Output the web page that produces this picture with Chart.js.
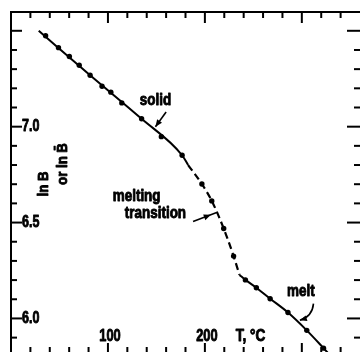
<!DOCTYPE html>
<html><head><meta charset="utf-8">
<script src="https://cdn.jsdelivr.net/npm/chart.js@4.4.1/dist/chart.umd.min.js"></script>
<style>html,body{margin:0;padding:0;background:#fff;}canvas{display:block;}</style>
</head><body>
<canvas id="c" width="364" height="356"></canvas>
<script>
// ---- data ----
const solidT = [35.7, 49, 60.2, 70.4, 81.6, 93.9, 103, 114.3, 134.7, 155.1, 176.5];
const solidV = [7.474, 7.412, 7.366, 7.320, 7.268, 7.211, 7.180, 7.124, 7.041, 6.948, 6.851];
const transT = [196.9, 207.1, 219.4, 229.6];
const transV = [6.701, 6.613, 6.469, 6.325];
const meltT = [241.8, 253.1, 267.3, 285.7, 305.1, 322.4];
const meltV = [6.201, 6.160, 6.103, 6.031, 5.938, 5.845];
// fitted curves
const solidLineT = [28.6, 81.6, 134.7, 176.5, 182.7];
const solidLineV = [7.50, 7.268, 7.041, 6.851, 6.80];
const transLineT = [182.7, 196.9, 207.1, 219.4, 229.6, 235.7];
const transLineV = [6.80, 6.701, 6.613, 6.469, 6.325, 6.227];
const meltLineT = [235.7, 241.8, 253.1, 267.3, 285.7, 305.1, 322.4, 336];
const meltLineV = [6.227, 6.201, 6.160, 6.103, 6.031, 5.938, 5.845, 5.77];
// axes
const xMajorTicks = [100, 200, 300];
const xMinorTicks = [20, 40, 60, 80, 120, 140, 160, 180, 220, 240, 260, 280, 320, 340];
const xTickLabels = ['100', '200'];
const yMajorTicks = [6.0, 6.5, 7.0, 7.5];
const yMinorTicks = [5.9, 6.1, 6.2, 6.3, 6.4, 6.6, 6.7, 6.8, 6.9, 7.1, 7.2, 7.3, 7.4];
const yTickLabels = ['6.0', '6.5', '7.0'];

const pts = (t, v) => t.map((x, i) => ({x, y: v[i]}));
const FONT = "'Liberation Sans','Arimo',sans-serif";

function arrowHead(ctx, x1, y1, x2, y2, len, w) {
  const a = Math.atan2(y2 - y1, x2 - x1);
  ctx.beginPath();
  ctx.moveTo(x2, y2);
  ctx.lineTo(x2 - len * Math.cos(a) + w * Math.sin(a), y2 - len * Math.sin(a) - w * Math.cos(a));
  ctx.lineTo(x2 - len * Math.cos(a) - w * Math.sin(a), y2 - len * Math.sin(a) + w * Math.cos(a));
  ctx.closePath();
  ctx.fill();
}
function txt(ctx, s, x, y, size, sx, align, rot) {
  ctx.save();
  ctx.translate(x, y);
  if (rot) ctx.rotate(rot);
  ctx.scale(sx, 1);
  ctx.font = 'bold ' + size + 'px ' + FONT;
  ctx.textAlign = align || 'center';
  ctx.textBaseline = 'middle';
  ctx.lineWidth = 0.9;
  ctx.lineJoin = 'round';
  ctx.fillText(s, 0, 0);
  ctx.strokeText(s, 0, 0);
  ctx.restore();
}

const deco = {
  id: 'deco',
  afterDraw(chart) {
    const {ctx, chartArea: a, scales: {x, y}} = chart;
    ctx.save();
    ctx.strokeStyle = '#000'; ctx.fillStyle = '#000';
    ctx.lineWidth = 2;
    // frame
    ctx.beginPath();
    ctx.moveTo(a.left, a.bottom); ctx.lineTo(a.left, a.top); ctx.lineTo(a.right, a.top);
    ctx.stroke();
    // x ticks (top and bottom, inward)
    const xt = (vals, lenTop, lenBot) => vals.forEach(v => {
      const px = x.getPixelForValue(v);
      ctx.beginPath(); ctx.moveTo(px, a.top); ctx.lineTo(px, a.top + lenTop); ctx.stroke();
      ctx.beginPath(); ctx.moveTo(px, a.bottom); ctx.lineTo(px, a.bottom - lenBot); ctx.stroke();
    });
    xt(xMinorTicks, 6, 5); xt(xMajorTicks, 11, 9);
    const yt = (vals, len, rlen) => vals.forEach(v => {
      const py = y.getPixelForValue(v);
      ctx.beginPath(); ctx.moveTo(a.left, py); ctx.lineTo(a.left + len, py); ctx.stroke();
      ctx.beginPath(); ctx.moveTo(a.right, py); ctx.lineTo(a.right - rlen, py); ctx.stroke();
    });
    yt(yMinorTicks, 6, 6); yt(yMajorTicks, 11, 13);
    // tick labels
    yTickLabels.forEach(s => txt(ctx, s, a.left + 11, y.getPixelForValue(parseFloat(s)), 16, 0.78, 'left'));
    xTickLabels.forEach(s => txt(ctx, s, x.getPixelForValue(parseFloat(s)) + 2, 336.5, 16, 0.8));
    txt(ctx, 'T, °C', x.getPixelForValue(247), 337, 16, 0.85);
    // y title (rotated)
    txt(ctx, 'ln B', 44, 184, 15, 0.88, 'center', -Math.PI / 2);
    txt(ctx, 'or ln B\u0304', 63, 164, 15, 0.88, 'center', -Math.PI / 2);
    // annotations
    txt(ctx, 'solid', x.getPixelForValue(149), y.getPixelForValue(7.134), 16, 0.84);
    txt(ctx, 'melting', x.getPixelForValue(129.6), y.getPixelForValue(6.634), 16, 0.84);
    txt(ctx, 'transition', x.getPixelForValue(149), y.getPixelForValue(6.546), 16, 0.84);
    txt(ctx, 'melt', x.getPixelForValue(299), y.getPixelForValue(6.139), 16, 0.84);
    ctx.lineWidth = 1.6;
    // solid arrow
    let x1 = x.getPixelForValue(160), y1 = y.getPixelForValue(7.077);
    let x2 = x.getPixelForValue(149), y2 = y.getPixelForValue(7.0);
    ctx.beginPath(); ctx.moveTo(x1, y1); ctx.lineTo(x2, y2); ctx.stroke();
    arrowHead(ctx, x1, y1, x2, y2, 7, 3);
    // transition arrow
    x1 = x.getPixelForValue(187.8); y1 = y.getPixelForValue(6.505);
    x2 = x.getPixelForValue(212.2); y2 = y.getPixelForValue(6.552);
    ctx.beginPath(); ctx.moveTo(x1, y1); ctx.lineTo(x2, y2); ctx.stroke();
    const mx = x1 + (x2 - x1) * 0.75, my = y1 + (y2 - y1) * 0.75;
    arrowHead(ctx, x1, y1, mx, my, 7, 3);
    // melt arrow (curved)
    x1 = x.getPixelForValue(312); y1 = y.getPixelForValue(6.077);
    x2 = x.getPixelForValue(298); y2 = y.getPixelForValue(5.990);
    const cx = x1 - 1, cy = y2 - 4;
    ctx.beginPath(); ctx.moveTo(x1, y1); ctx.quadraticCurveTo(cx, cy, x2, y2); ctx.stroke();
    arrowHead(ctx, cx, cy, x2, y2, 7, 3);
    ctx.restore();
  }
};

new Chart(document.getElementById('c'), {
  type: 'scatter',
  data: {
    datasets: [
      {data: pts(solidT, solidV), pointRadius: 2.7, pointBackgroundColor: '#000', pointBorderWidth: 0, showLine: false},
      {data: pts(transT, transV), pointRadius: 2.7, pointBackgroundColor: '#000', pointBorderWidth: 0, showLine: false},
      {data: pts(meltT, meltV), pointRadius: 2.7, pointBackgroundColor: '#000', pointBorderWidth: 0, showLine: false},
      {data: pts(solidLineT, solidLineV), showLine: true, borderColor: '#000', borderWidth: 2, pointRadius: 0, cubicInterpolationMode: 'monotone'},
      {data: pts(transLineT, transLineV), showLine: true, borderColor: '#000', borderWidth: 2.2, pointRadius: 0, borderDash: [7, 4], cubicInterpolationMode: 'monotone'},
      {data: pts(meltLineT, meltLineV), showLine: true, borderColor: '#000', borderWidth: 2, pointRadius: 0, cubicInterpolationMode: 'monotone'}
    ]
  },
  options: {
    responsive: false, animation: false, devicePixelRatio: 1,
    layout: {padding: {left: 11, top: 12, right: 0, bottom: 0}},
    plugins: {legend: {display: false}, tooltip: {enabled: false}},
    scales: {
      x: {type: 'linear', min: 0, max: 360, display: false},
      y: {type: 'linear', min: 5.825, max: 7.598, display: false}
    }
  },
  plugins: [deco]
});
</script>
</body></html>
